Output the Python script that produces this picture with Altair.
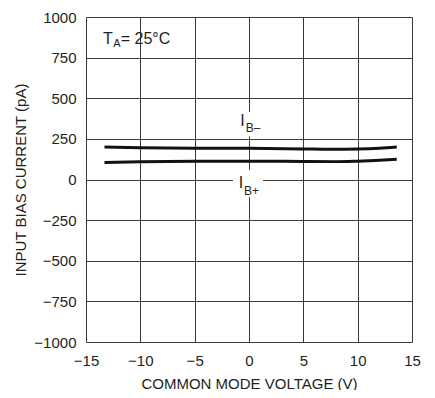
import altair as alt
import pandas as pd

# Data
v_minus = [-13.3, -10, -5, 0, 5, 7.5, 10, 12, 13.6]
ib_minus = [200, 196, 193, 192, 188, 186, 188, 193, 200]
v_plus = [-13.3, -10, -5, 0, 5, 8, 10, 12, 13.6]
ib_plus = [105, 109, 112, 113, 111, 110, 113, 118, 124]

x_ticks = [-15, -10, -5, 0, 5, 10, 15]
y_ticks = [-1000, -750, -500, -250, 0, 250, 500, 750, 1000]

FONT = "Liberation Sans, Arial, sans-serif"
INK = "#231f20"

df = pd.concat([
    pd.DataFrame({"v": v_minus, "i": ib_minus, "s": "IB-"}),
    pd.DataFrame({"v": v_plus, "i": ib_plus, "s": "IB+"}),
])

xs = alt.Scale(domain=[-15, 15], nice=False)
ys = alt.Scale(domain=[-1000, 1000], nice=False)

xaxis = alt.Axis(values=x_ticks, format="d", title="COMMON MODE VOLTAGE (V)", grid=True,
                 gridColor="#3a3a3a", gridWidth=1, ticks=False, domain=False,
                 labelFont=FONT, labelFontSize=15, labelColor=INK, labelPadding=11,
                 titleFont=FONT, titleFontSize=15, titleFontWeight="normal",
                 titleColor=INK, titlePadding=8, labelFlush=False)
yaxis = alt.Axis(values=y_ticks, format="d", title="INPUT BIAS CURRENT (pA)", grid=True,
                 gridColor="#3a3a3a", gridWidth=1, ticks=False, domain=False,
                 labelFont=FONT, labelFontSize=15, labelColor=INK, labelPadding=10,
                 titleFont=FONT, titleFontSize=15, titleFontWeight="normal",
                 titleColor=INK, titlePadding=5, labelFlush=False)

lines = alt.Chart(df).mark_line(color="#111111", strokeWidth=3, interpolate="monotone").encode(
    x=alt.X("v:Q", scale=xs, axis=xaxis),
    y=alt.Y("i:Q", scale=ys, axis=yaxis),
    detail="s:N",
)

# white backgrounds behind the curve labels
boxes = pd.DataFrame({
    "x1": [-1.3, -1.47], "x2": [1.2, 1.29],
    "y1": [265, -110], "y2": [415, 58],
})
bg = alt.Chart(boxes).mark_rect(color="white").encode(
    x=alt.X("x1:Q", scale=xs), x2="x2", y=alt.Y("y1:Q", scale=ys), y2="y2")

def txt(xv, yv, t, size):
    return alt.Chart(pd.DataFrame({"x": xv, "y": yv, "t": t})).mark_text(
        font=FONT, fontSize=size, color=INK, align="left", baseline="alphabetic").encode(
        x=alt.X("x:Q", scale=xs), y=alt.Y("y:Q", scale=ys), text="t:N")

t_I = txt([-0.8, -0.95], [331, -54], ["I", "I"], 16)
t_sub = txt([-0.3, -0.45], [294, -95], ["B\u2013", "B+"], 12)
t_T = txt([-13.43], [834], ["T"], 16)
t_A = txt([-12.5], [817], ["A"], 11)
t_rest = txt([-11.8], [834], ["= 25\u00b0C"], 16)

chart = alt.layer(bg, lines, t_I, t_sub, t_T, t_A, t_rest).properties(
    width=326, height=325,
    autosize=alt.AutoSizeParams(type="none"),
    padding={"left": 78, "top": 9, "right": 15, "bottom": 48},
).configure_view(stroke="#111111", strokeWidth=2).configure(background="white")

chart.save("out.html", embed_options={"renderer": "svg", "actions": False})
